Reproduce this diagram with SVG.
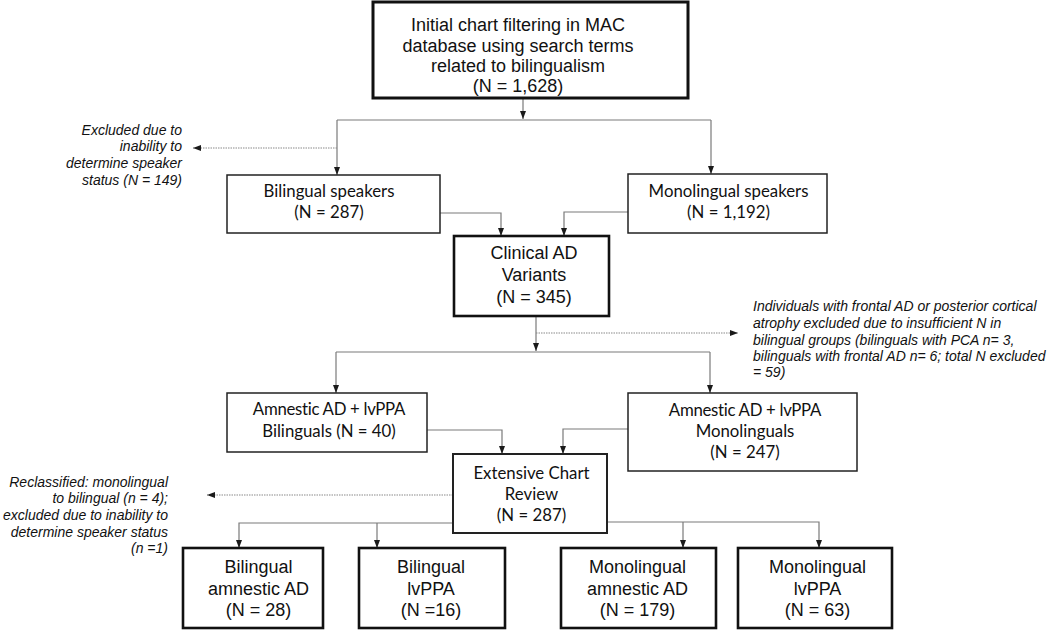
<svg xmlns="http://www.w3.org/2000/svg" width="1050" height="632" viewBox="0 0 1050 632">
<defs>
<marker id="ah" markerUnits="userSpaceOnUse" markerWidth="8" markerHeight="8" viewBox="0 0 8 8" refX="8" refY="4" orient="auto">
<path d="M0,1 L8,4 L0,7 Z" fill="#1a1a1a"/>
</marker>
<style>
.box{fill:#fff;stroke:#222;stroke-width:1.5}
.bold{fill:#fff;stroke:#111;stroke-width:2.6}
.top{fill:#fff;stroke:#111;stroke-width:3}
.ar{font-family:"Liberation Sans",Arial,sans-serif;font-size:18px;fill:#111;text-anchor:middle}
.cb{font-family:Lato,"Open Sans",sans-serif;font-size:16.8px;fill:#111;text-anchor:middle}
.it{font-family:"Liberation Sans",Arial,sans-serif;font-size:14px;font-style:italic;fill:#111}
.ln{fill:none;stroke:#7a7a7a;stroke-width:1.2}
.dt{fill:none;stroke:#8a8a8a;stroke-width:1.2;stroke-dasharray:1.5 1}
</style>
</defs>
<rect width="1050" height="632" fill="#fff"/>

<g id="connectors">
<path class="ln" d="M523,98 V119" marker-end="url(#ah)"/>
<path class="ln" d="M337,120 H711"/>
<path class="ln" d="M337,120 V175" marker-end="url(#ah)"/>
<path class="ln" d="M711,120 V174" marker-end="url(#ah)"/>
<path class="dt" d="M337,148 H193" marker-end="url(#ah)"/>
<path class="ln" d="M440,213 H501 V236" marker-end="url(#ah)"/>
<path class="ln" d="M628,212 H564 V236" marker-end="url(#ah)"/>
<path class="ln" d="M536,317 V351" marker-end="url(#ah)"/>
<path class="dt" d="M536,333 H738" marker-end="url(#ah)"/>
<path class="ln" d="M336,352 H710"/>
<path class="ln" d="M336,352 V393" marker-end="url(#ah)"/>
<path class="ln" d="M710,352 V393" marker-end="url(#ah)"/>
<path class="ln" d="M427,430 H502 V454" marker-end="url(#ah)"/>
<path class="ln" d="M628,429 H563 V454" marker-end="url(#ah)"/>
<path class="dt" d="M453,495 H207" marker-end="url(#ah)"/>
<path class="ln" d="M453,523 H239 V548" marker-end="url(#ah)"/>
<path class="ln" d="M377,523 V548" marker-end="url(#ah)"/>
<path class="ln" d="M607,522 H819 V548" marker-end="url(#ah)"/>
<path class="ln" d="M683,522 V548" marker-end="url(#ah)"/>
</g>

<g id="initial">
<rect class="top" x="373" y="2" width="315" height="96"/>
<text class="ar" x="518" y="31">Initial chart filtering in MAC</text>
<text class="ar" x="518" y="52">database using search terms</text>
<text class="ar" x="518" y="72">related to bilingualism</text>
<text class="ar" x="518" y="92">(N = 1,628)</text>
</g>

<g id="excluded1">
<text class="it" text-anchor="end" x="182" y="135">Excluded due to</text>
<text class="it" text-anchor="end" x="182" y="151">inability to</text>
<text class="it" text-anchor="end" x="182" y="168">determine speaker</text>
<text class="it" text-anchor="end" x="182" y="185">status (N = 149)</text>
</g>

<g id="bilingual">
<rect class="box" x="227" y="175" width="213" height="58"/>
<text class="cb" x="329" y="197">Bilingual speakers</text>
<text class="cb" x="329" y="218">(N = 287)</text>
</g>

<g id="monolingual">
<rect class="box" x="628" y="174" width="199" height="59"/>
<text class="cb" x="728.5" y="197">Monolingual speakers</text>
<text class="cb" x="728.5" y="218">(N = 1,192)</text>
</g>

<g id="clinical">
<rect class="bold" x="454" y="236" width="155" height="80"/>
<text class="ar" x="534" y="259">Clinical AD</text>
<text class="ar" x="534" y="281">Variants</text>
<text class="ar" x="534" y="303">(N = 345)</text>
</g>

<g id="excluded2">
<text class="it" x="753" y="311">Individuals with frontal AD or posterior cortical</text>
<text class="it" x="753" y="328">atrophy excluded due to insufficient N in</text>
<text class="it" x="753" y="345">bilingual groups (bilinguals with PCA n= 3,</text>
<text class="it" x="753" y="361">bilinguals with frontal AD n= 6; total N excluded</text>
<text class="it" x="753" y="377">= 59)</text>
</g>

<g id="amn-bi">
<rect class="box" x="227" y="393" width="200" height="59"/>
<text class="cb" x="329" y="415" letter-spacing="-0.3">Amnestic AD + lvPPA</text>
<text class="cb" x="329" y="437">Bilinguals (N = 40)</text>
</g>

<g id="amn-mono">
<rect class="box" x="628" y="393" width="229" height="78"/>
<text class="cb" x="745" y="416" letter-spacing="-0.3">Amnestic AD + lvPPA</text>
<text class="cb" x="745" y="437">Monolinguals</text>
<text class="cb" x="745" y="458">(N = 247)</text>
</g>

<g id="review">
<rect class="box" style="stroke-width:2" x="453" y="454" width="154" height="79"/>
<text class="cb" x="531.5" y="479">Extensive Chart</text>
<text class="cb" x="531.5" y="500">Review</text>
<text class="cb" x="531.5" y="521">(N = 287)</text>
</g>

<g id="reclassified">
<text class="it" text-anchor="end" x="168" y="487">Reclassified: monolingual</text>
<text class="it" text-anchor="end" x="168" y="503">to bilingual  (n = 4);</text>
<text class="it" text-anchor="end" x="168" y="520">excluded due to inability to</text>
<text class="it" text-anchor="end" x="168" y="537">determine speaker status</text>
<text class="it" text-anchor="end" x="168" y="553">(n =1)</text>
</g>

<g id="bi-amn">
<rect class="bold" x="183" y="548" width="140" height="80"/>
<text class="ar" x="258.5" y="573">Bilingual</text>
<text class="ar" x="258.5" y="595">amnestic AD</text>
<text class="ar" x="258.5" y="616">(N = 28)</text>
</g>

<g id="bi-lvppa">
<rect class="bold" x="359" y="548" width="146" height="80"/>
<text class="ar" x="431" y="573">Bilingual</text>
<text class="ar" x="431" y="595">lvPPA</text>
<text class="ar" x="431" y="616">(N =16)</text>
</g>

<g id="mono-amn">
<rect class="bold" x="561" y="548" width="155" height="80"/>
<text class="ar" x="637.5" y="573">Monolingual</text>
<text class="ar" x="637.5" y="595">amnestic AD</text>
<text class="ar" x="637.5" y="616">(N = 179)</text>
</g>

<g id="mono-lvppa">
<rect class="bold" x="738" y="548" width="154" height="80"/>
<text class="ar" x="817.5" y="573">Monolingual</text>
<text class="ar" x="817.5" y="595">lvPPA</text>
<text class="ar" x="817.5" y="616">(N = 63)</text>
</g>
</svg>
